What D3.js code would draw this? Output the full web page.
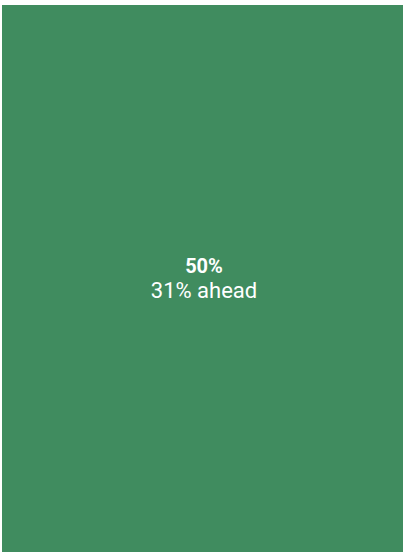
<!DOCTYPE html>
<html>
<head>
<meta charset="utf-8">
<script src="https://cdn.jsdelivr.net/npm/d3@7"></script>
<style>
body { margin: 0; background: #fff; font-family: Roboto, sans-serif; }
</style>
</head>
<body>
<script>
let names = ["progress"]
let shares = [50]
let aheadBy = [31]

let w = 403, h = 552
let margin = {top: 5, right: 0, bottom: 0, left: 2}

let root = d3.hierarchy({children: names.map((n, i) => ({name: n, value: shares[i], ahead: aheadBy[i]}))})
    .sum(d => d.value || 0)

d3.treemap()
    .size([w - margin.left - margin.right, h - margin.top - margin.bottom])
    .padding(0)(root)

let svg = d3.select("body").append("svg")
    .attr("width", w)
    .attr("height", h)

let g = svg.append("g").attr("transform", `translate(${margin.left},${margin.top})`)

let cell = g.selectAll("g")
    .data(root.leaves())
    .enter()
    .append("g")
    .attr("transform", d => `translate(${d.x0},${d.y0})`)

cell.append("rect")
    .attr("width", d => d.x1 - d.x0)
    .attr("height", d => d.y1 - d.y0)
    .attr("fill", "#408c5f")

cell.append("text")
    .attr("x", d => (d.x1 - d.x0) / 2 + 1.5)
    .attr("y", d => (d.y1 - d.y0) / 2 - 6)
    .attr("text-anchor", "middle")
    .attr("fill", "#fff")
    .attr("font-weight", "bold")
    .attr("font-size", 20)
    .text(d => d.data.value + "%")

cell.append("text")
    .attr("x", d => (d.x1 - d.x0) / 2 + 1.5)
    .attr("y", d => (d.y1 - d.y0) / 2 + 19)
    .attr("text-anchor", "middle")
    .attr("fill", "#fff")
    .attr("font-size", 22)
    .text(d => d.data.ahead + "% ahead")
</script>
</body>
</html>
